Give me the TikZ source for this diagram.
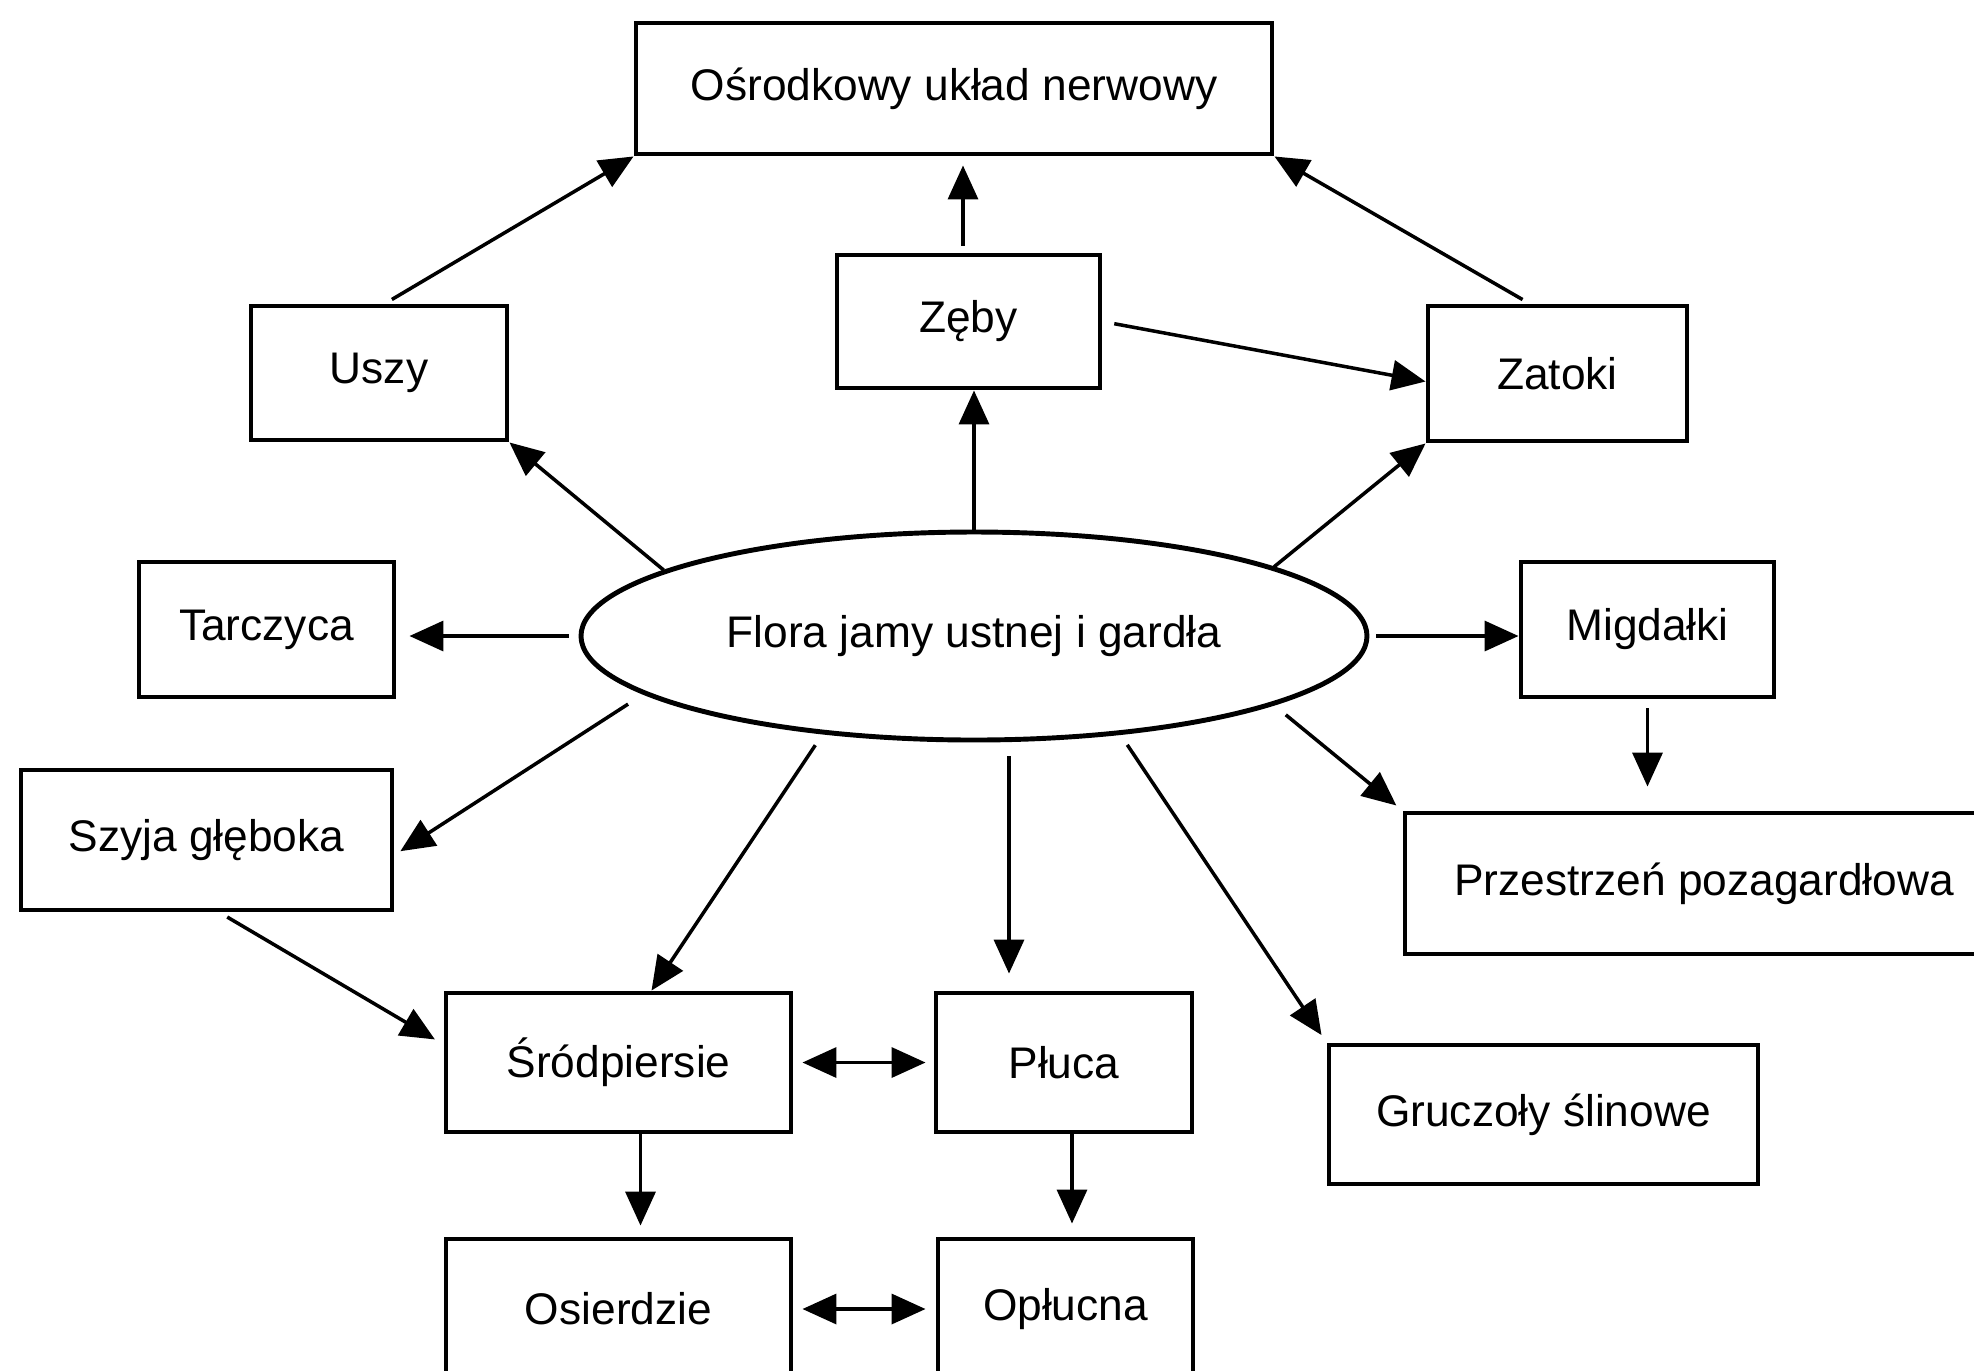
\documentclass[tikz,border=0pt]{standalone}
\usepackage{fontspec}
\setmainfont{Liberation Sans}
\usetikzlibrary{arrows.meta, shapes.geometric}

\begin{document}
\begin{tikzpicture}[
    box/.style={draw, line width=1.4pt, inner sep=0pt, font=\fontsize{12.6}{15}\selectfont},
    arr/.style={line width=1pt, -{Triangle[length=0.34cm, width=0.3cm]}},
    both/.style={line width=1pt, {Triangle[length=0.34cm, width=0.3cm]}-{Triangle[length=0.34cm, width=0.3cm]}}
  ]

  % Frame
  \useasboundingbox (0,0) rectangle (19.74,-13.70);
  \clip (0,0) rectangle (19.74,-13.70);

  % Centre
  \node[box, ellipse, minimum width=7.86cm, minimum height=2.08cm] (flora) at (9.74,-6.36) {Flora jamy ustnej i gardła};

  % Top
  \node[box, minimum width=6.36cm, minimum height=1.31cm] (cns) at (9.54,-0.885) {Ośrodkowy układ nerwowy};
  \node[box, minimum width=2.56cm, minimum height=1.34cm] (uszy) at (3.79,-3.73) {Uszy};
  \node[box, minimum width=2.63cm, minimum height=1.33cm] (zeby) at (9.685,-3.215) {Zęby};
  \node[box, minimum width=2.59cm, minimum height=1.35cm] (zatoki) at (15.575,-3.735) {Zatoki};

  % Sides
  \node[box, minimum width=2.55cm, minimum height=1.35cm] (tarczyca) at (2.665,-6.295) {Tarczyca};
  \node[box, minimum width=2.53cm, minimum height=1.35cm] (migdalki) at (16.475,-6.295) {Migdałki};
  \node[box, minimum width=3.71cm, minimum height=1.40cm] (szyja) at (2.065,-8.40) {Szyja głęboka};
  \node[box, minimum width=5.98cm, minimum height=1.41cm] (przestrzen) at (17.04,-8.835) {Przestrzeń pozagardłowa};

  % Bottom
  \node[box, minimum width=3.45cm, minimum height=1.39cm] (srodpiersie) at (6.185,-10.625) {Śródpiersie};
  \node[box, minimum width=2.56cm, minimum height=1.39cm] (pluca) at (10.64,-10.625) {Płuca};
  \node[box, minimum width=4.29cm, minimum height=1.39cm] (gruczoly) at (15.435,-11.145) {Gruczoły ślinowe};
  \node[box, minimum width=3.45cm, minimum height=1.40cm] (osierdzie) at (6.185,-13.09) {Osierdzie};
  \node[box, minimum width=2.55cm, minimum height=1.40cm] (oplucna) at (10.655,-13.09) {Opłucna};

  % Up to the nervous system
  \draw[arr, shorten <=0.08cm] ([xshift=0.06cm]uszy.north) -- (cns.south west);
  \draw[arr, shorten <=0.07cm, shorten >=0.09cm] ([xshift=-0.055cm]zeby.north) -- ([xshift=-0.055cm]zeby.north |- cns.south);
  \draw[arr, shorten <=0.08cm] ([xshift=-0.28cm]zatoki.north) -- (cns.south east);
  \draw[arr, shorten <=0.12cm] (zeby.east) -- ([yshift=-0.08cm]zatoki.west);

  % Out of the flora
  \draw[arr] (flora.168) -- (uszy.south east);
  \draw[arr] (flora.north) -- (flora.north |- zeby.south);
  \draw[arr] (flora.13) -- (zatoki.south west);
  \draw[arr, shorten <=0.1cm, shorten >=0.13cm] (flora.west) -- (flora.west -| tarczyca.east);
  \draw[arr, shorten <=0.07cm] (flora.east) -- (flora.east -| migdalki.west);
  \draw[arr, shorten <=0.18cm, shorten >=0.07cm] (flora.190) -- ([yshift=-0.15cm]szyja.east);
  \draw[arr, shorten <=0.13cm] (flora.213) -- ([xshift=0.33cm]srodpiersie.north);
  \draw[arr, shorten <=0.14cm, shorten >=0.17cm] ([xshift=0.35cm]flora.south) -- ([xshift=0.35cm]flora.south |- pluca.north);
  \draw[arr, shorten <=0.12cm, shorten >=0.09cm] (flora.326) -- (gruczoly.north west);
  \draw[arr, shorten <=0.15cm, shorten >=0.08cm] (flora.347) -- (przestrzen.north west);

  % Further on
  \draw[arr, shorten <=0.09cm, shorten >=0.24cm] (migdalki.south) -- (migdalki.south |- przestrzen.north);
  \draw[arr, shorten <=0.09cm, shorten >=0.1cm] ([xshift=0.13cm]szyja.south) -- ([yshift=0.18cm]srodpiersie.west);
  \draw[arr, shorten >=0.11cm] ([xshift=0.22cm]srodpiersie.south) -- ([xshift=0.22cm]srodpiersie.south |- osierdzie.north);
  \draw[arr, shorten >=0.13cm] ([xshift=0.08cm]pluca.south) -- ([xshift=0.08cm]pluca.south |- oplucna.north);
  \draw[both, shorten <=0.09cm, shorten >=0.08cm] (srodpiersie) -- (pluca);
  \draw[both, shorten <=0.09cm, shorten >=0.1cm] (osierdzie) -- (oplucna);
\end{tikzpicture}
\end{document}
